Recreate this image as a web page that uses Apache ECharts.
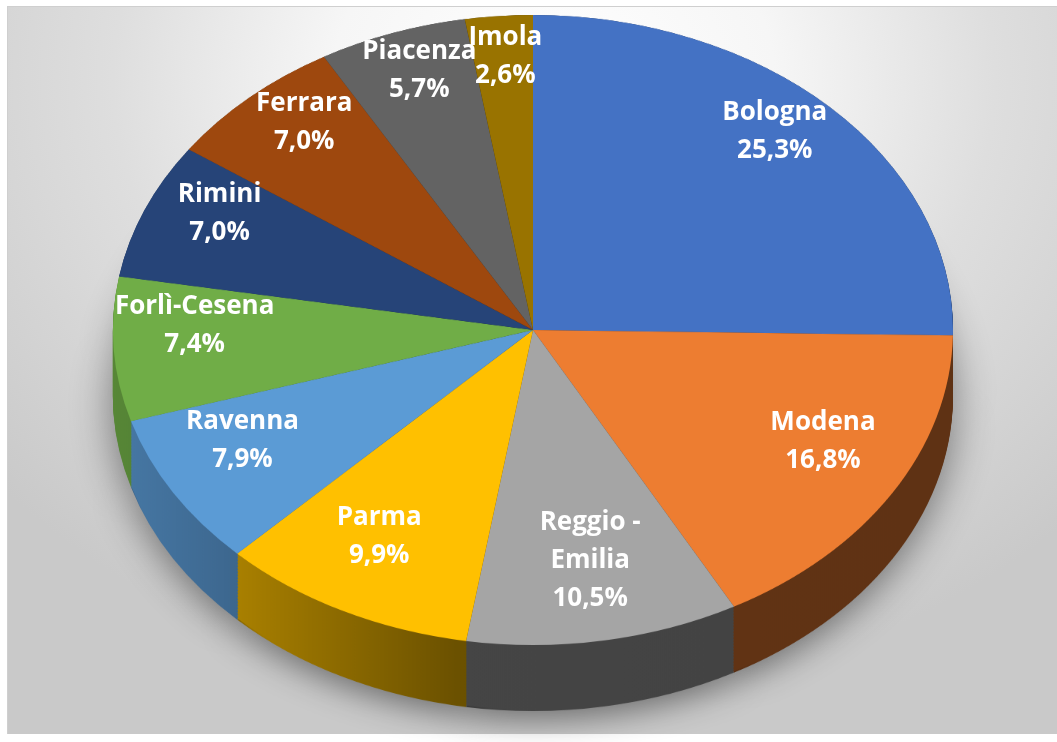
<!DOCTYPE html>
<html>
<head>
<meta charset="utf-8">
<script src="https://cdn.jsdelivr.net/npm/echarts@6/dist/echarts.min.js"></script>
<style>
html,body{margin:0;padding:0;background:#fff;width:1057px;height:742px;overflow:hidden;position:relative;}
#frame{position:absolute;left:7px;top:6px;width:1050px;height:727px;border-top:1px solid #cfcfcf;border-left:1px solid #cfcfcf;
  background:radial-gradient(ellipse 70% 85% at 52% 10%, #ffffff 0%, #f6f6f6 30%, #dedede 60%, #c9c9c9 100%);}
#pie{position:absolute;left:0;top:0;width:1057px;height:989px;transform:scaleY(0.75);transform-origin:0 0;}
#labels{position:absolute;left:0;top:0;width:1057px;height:742px;}
</style>
</head>
<body>
<div id="frame"></div>
<div id="pie"></div>
<div id="labels"></div>
<script>
// ---- data ----
const categories = ['Bologna', 'Modena', 'Reggio - Emilia', 'Parma', 'Ravenna', 'Forlì-Cesena', 'Rimini', 'Ferrara', 'Piacenza', 'Imola'];
const shares = [25.3, 16.8, 10.5, 9.9, 7.9, 7.4, 7.0, 7.0, 5.7, 2.6];
const sliceColors = ['#4472C4', '#ED7D31', '#A5A5A5', '#FFC000', '#5B9BD5', '#70AD47', '#264478', '#9E480E', '#636363', '#997300'];

// ---- geometry / style ----
const CX = 533, CY_S = 330, RX = 420, RY = 315, DEPTH = 66;
const SY = RY / RX;
const CY_U = CY_S / SY;
const DEPTH_U = DEPTH / SY;
const LABEL_CY = 310;
const LABEL_R = 0.8 * RX;

function shade(hex, f) {
  const n = parseInt(hex.slice(1), 16);
  const r = Math.round(((n >> 16) & 255) * f), g = Math.round(((n >> 8) & 255) * f), b = Math.round((n & 255) * f);
  return 'rgb(' + r + ',' + g + ',' + b + ')';
}
function sideFill(hex) {
  return {
    type: 'linear', x: CX - RX, y: 0, x2: CX + RX, y2: 0, global: true,
    colorStops: [
      { offset: 0, color: shade(hex, 0.78) },
      { offset: 0.13, color: shade(hex, 0.68) },
      { offset: 0.41, color: shade(hex, 0.42) },
      { offset: 1, color: shade(hex, 0.40) }
    ]
  };
}
const pieData = categories.map((n, i) => ({ name: n, value: shares[i] }));
const sideFills = sliceColors.map(sideFill);

const series = [];
const LAYERS = 44;
for (let i = 0; i <= LAYERS; i++) {
  const off = DEPTH_U * (1 - i / LAYERS);
  const deepest = i === 0;
  series.push({
    type: 'pie', silent: true, animation: false,
    center: [CX, CY_U + off], radius: RX,
    startAngle: 90, clockwise: true,
    label: { show: false }, labelLine: { show: false },
    emphasis: { disabled: true },
    itemStyle: Object.assign({ color: p => sideFills[p.dataIndex], borderWidth: 0 },
      deepest ? { shadowBlur: 40, shadowColor: 'rgba(0,0,0,0.45)', shadowOffsetY: 12 } : {}),
    data: pieData
  });
}
series.push({
  type: 'pie', silent: true, animation: false,
  center: [CX, CY_U], radius: RX,
  startAngle: 90, clockwise: true,
  label: { show: false }, labelLine: { show: false },
  emphasis: { disabled: true },
  itemStyle: { color: p => sliceColors[p.dataIndex], borderWidth: 0 },
  data: pieData
});

const chartA = echarts.init(document.getElementById('pie'), null, { renderer: 'canvas' });
chartA.setOption({ animation: false, series: series });

const chartB = echarts.init(document.getElementById('labels'), null, { renderer: 'canvas' });
chartB.setOption({
  animation: false,
  series: [{
    type: 'pie', silent: true,
    center: [CX, LABEL_CY], radius: [LABEL_R - 70, LABEL_R + 70],
    startAngle: 90, clockwise: true,
    avoidLabelOverlap: false,
    itemStyle: { color: 'rgba(0,0,0,0)', borderWidth: 0 },
    emphasis: { disabled: true },
    label: {
      show: true, position: 'inside', color: '#ffffff',
      fontFamily: 'Open Sans', fontWeight: 'bold', fontSize: 26, lineHeight: 38,
      formatter: p => p.name.replace(' - ', ' -\n') + '\n' + p.value.toFixed(1).replace('.', ',') + '%'
    },
    labelLine: { show: false },
    labelLayout: function (params) {
      const r = params.labelRect;
      const cx = r.x + r.width / 2, cy = r.y + r.height / 2;
      return { x: cx, y: LABEL_CY + (cy - LABEL_CY) * SY, align: 'center', verticalAlign: 'middle' };
    },
    data: pieData
  }]
});
</script>
</body>
</html>
